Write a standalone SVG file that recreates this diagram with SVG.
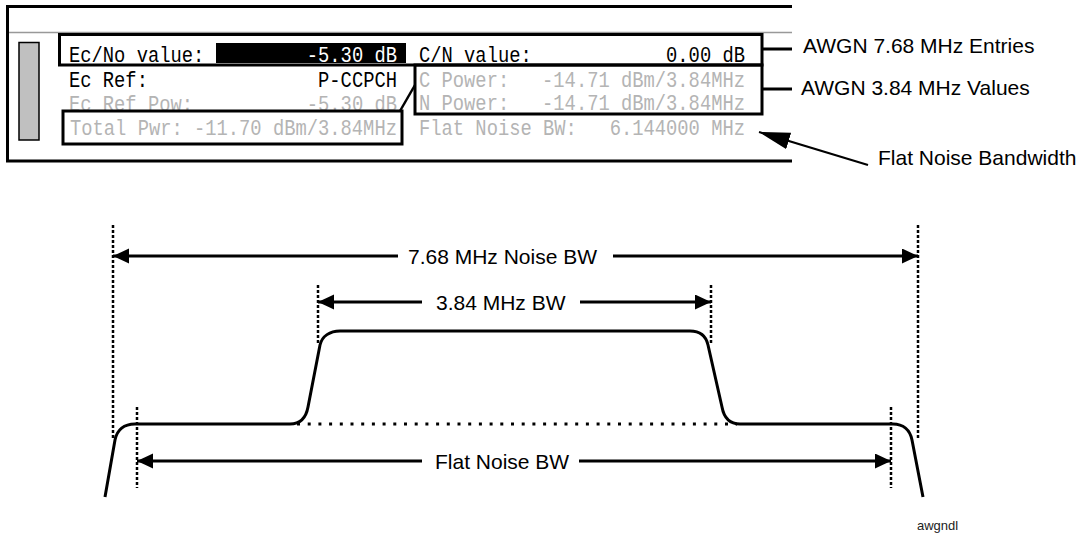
<svg xmlns="http://www.w3.org/2000/svg" width="1087" height="535" viewBox="0 0 1087 535">
<style>
.mono{font-family:"Liberation Mono","DejaVu Sans Mono",monospace;font-size:18.8px}
.blk{fill:#000}
.gry{fill:#b4b4b4}
.wht{fill:#fff}
.end{text-anchor:end}
.lbl{font-family:"Liberation Sans",Arial,sans-serif;font-size:21px;fill:#000}
.box{fill:none;stroke:#000;stroke-width:3}
.conn{fill:none;stroke:#000;stroke-width:3}
.dotv{fill:none;stroke:#000;stroke-width:2.5;stroke-dasharray:3 2}
.doth{fill:none;stroke:#000;stroke-width:3;stroke-dasharray:3 7.7}
.arr{fill:none;stroke:#000;stroke-width:3;marker-end:url(#ah)}
</style>
<defs>
<marker id="ah" markerUnits="userSpaceOnUse" markerWidth="18" markerHeight="16" refX="16" refY="7.5" orient="auto">
<path d="M0,0 L16,7.5 L0,15 Z" fill="#000"/>
</marker>
<marker id="ah2" markerUnits="userSpaceOnUse" markerWidth="32" markerHeight="18" refX="31" refY="8.5" orient="auto">
<path d="M0,0 L31,8.5 L0,17 Z" fill="#000"/>
</marker>
</defs>
<rect width="1087" height="535" fill="#fff"/>

<g id="screen">
<path d="M792,6.5 H7.5 V161 H792" class="box"/>
<line x1="9" y1="32.5" x2="792" y2="32.5" stroke="#999" stroke-width="1.5"/>
<rect x="19" y="42.5" width="20" height="97.5" fill="#c0c0c0" stroke="#000" stroke-width="1.5"/>
<rect x="216" y="43" width="190" height="20" fill="#000"/>
<g transform="scale(1,1.2)">
<text class="mono blk" x="69" y="51.67">Ec/No value:</text>
<text class="mono wht end" x="397" y="51.67">-5.30 dB</text>
<text class="mono blk" x="69" y="72.5">Ec Ref:</text>
<text class="mono blk end" x="397" y="72.5">P-CCPCH</text>
<text class="mono gry" x="69" y="92.5">Ec Ref Pow:</text>
<text class="mono gry end" x="397" y="92.5">-5.30 dB</text>
<text class="mono gry" x="70" y="112.5">Total Pwr: -11.70 dBm/3.84MHz</text>
<text class="mono blk" x="419" y="51.67">C/N value:</text>
<text class="mono blk end" x="745" y="51.67">0.00 dB</text>
<text class="mono gry" x="419" y="72.5">C Power:</text>
<text class="mono gry end" x="745" y="72.5">-14.71 dBm/3.84MHz</text>
<text class="mono gry" x="419" y="91.9">N Power:</text>
<text class="mono gry end" x="745" y="91.9">-14.71 dBm/3.84MHz</text>
<text class="mono gry" x="419" y="112.5">Flat Noise BW:</text>
<text class="mono gry end" x="745" y="112.5">6.144000 MHz</text>
</g>
</g>

<g id="box-awgn768"><rect x="59.5" y="34.5" width="702.5" height="30.5" class="box"/></g>
<g id="box-awgn384"><rect x="415" y="65" width="347" height="49" class="box"/><rect x="63" y="111" width="339" height="33" class="box"/></g>

<g id="label-entries"><text class="lbl" x="803" y="53">AWGN 7.68 MHz Entries</text></g>
<g id="label-values"><text class="lbl" x="801" y="95">AWGN 3.84 MHz Values</text></g>
<g id="label-flat"><text class="lbl" x="878" y="165">Flat Noise Bandwidth</text></g>

<g id="spectrum">
<path class="conn" d="M105,497 L115,440 C117,430 124,424 135,424 L290,424 C300,424 306,418 308,407 L320,345 C322,336 330,331 340,331 L690,331 C700,331 706,336 708,345 L722,407 C724,418 730,424 740,424 L893,424 C903,424 910,430 912,440 L923,497"/>
<line class="doth" x1="297" y1="424" x2="737" y2="424"/>
<line class="dotv" x1="113" y1="225" x2="113" y2="438"/>
<line class="dotv" x1="918" y1="225" x2="918" y2="440"/>
<line class="dotv" x1="318" y1="285" x2="318" y2="345"/>
<line class="dotv" x1="711" y1="285" x2="711" y2="345"/>
<line class="dotv" x1="137" y1="407" x2="137" y2="488"/>
<line class="dotv" x1="891" y1="407" x2="891" y2="488"/>
</g>

<g id="dim-768"><text class="lbl" x="408" y="263.5">7.68 MHz Noise BW</text></g>
<g id="dim-384"><text class="lbl" x="436" y="309.5">3.84 MHz BW</text></g>
<g id="dim-flat"><text class="lbl" x="435" y="468.5">Flat Noise BW</text></g>
<g id="tag"><text x="917" y="530" style="font-family:'Liberation Sans',Arial,sans-serif;font-size:13px;fill:#222">awgndl</text></g>

<g id="connectors">
<path class="conn" d="M762,49 H792 M762,89 H792"/>
<line x1="400" y1="111" x2="415" y2="85" stroke="#000" stroke-width="2.5"/>
<line x1="868" y1="165" x2="759" y2="132" stroke="#000" stroke-width="2" marker-end="url(#ah2)"/>
<line class="arr" x1="398" y1="256" x2="113" y2="256"/>
<line class="arr" x1="613" y1="256" x2="918" y2="256"/>
<line class="arr" x1="422" y1="302" x2="318" y2="302"/>
<line class="arr" x1="580" y1="302" x2="711" y2="302"/>
<line class="arr" x1="422" y1="461" x2="137" y2="461"/>
<line class="arr" x1="579" y1="461" x2="891" y2="461"/>
</g>
</svg>
